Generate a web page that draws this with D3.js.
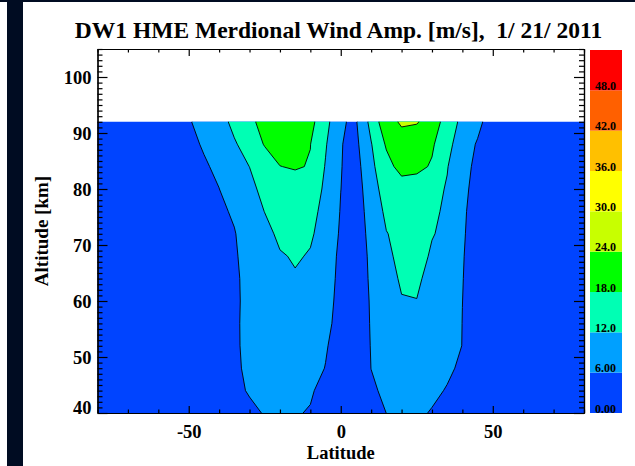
<!DOCTYPE html>
<meta charset="utf-8">
<script src="https://d3js.org/d3.v7.min.js"></script>
<style>
  body { margin: 0; background: #fff; }
  text { font-family: "Liberation Serif", "Times New Roman", serif; font-weight: bold; fill: #000; }
</style>
<body>
<svg id="vis" width="635" height="466"></svg>

<script>
// grid of the field: latitude columns, altitude rows (km)
var lats = [-80,-75,-70,-65,-60,-55,-50,-45,-40,-35,-30,-25,-20,-15,-10,-5,0,5,10,15,20,25,30,35,40,45,50,55,60,65,70,75,80];
var alts = [40,44,48,52,56,60,64,68,72,76,80,84,88,92];

// wind amplitude [m/s] per altitude row, one value per latitude
var amp40 = [1.5,1.7,1.9,2.2,2.4,2.7,3.0, 3.4,3.9,4.5,5.0,6.28,7.0,6.6,5.45,3.2,2.6,2.5,4.5,6.02,7.2,7.0,5.6,4.6,4.2,3.7,3.1, 2.7,2.3,2.0,1.7,1.4,1.1];
var amp44 = [1.5,1.7,1.9,2.2,2.5,2.7,3.1, 3.5,4.0,4.9,6.4,7.2,7.8,7.6,6.9,3.4,2.7,2.6,5.2,7.0,7.8,8.0,7.2,5.62,4.5,3.8,3.2, 2.7,2.3,2.0,1.7,1.4,1.1];
var amp48 = [1.5,1.7,2.0,2.2,2.5,2.8,3.2, 3.6,4.1,5.3,6.8,7.8,8.5,8.8,8.5,5.8,2.8,2.5,6.05,8.0,9.0,9.2,8.6,7.0,5.0,4.0,3.3, 2.8,2.3,2.0,1.7,1.4,1.1];
var amp52 = [1.5,1.7,2.0,2.3,2.6,2.9,3.2, 3.7,4.2,5.4,7.0,8.2,9.0,9.3,8.8,6.6,2.9,2.6,6.22,8.6,9.8,10.0,9.5,8.3,5.9,4.2,3.4, 2.8,2.3,2.0,1.7,1.4,1.1];
var amp56 = [1.5,1.8,2.0,2.3,2.6,2.9,3.3, 3.8,4.3,5.44,7.0,8.5,9.5,9.8,9.5,8.0,3.2,2.7,6.37,9.0,10.5,10.8,10.0,8.5,5.95,4.3,3.5, 2.9,2.4,2.0,1.7,1.4,1.1];
var amp60 = [1.5,1.8,2.1,2.4,2.7,3.0,3.4, 3.9,4.4,5.1,7.4,8.8,10.0,10.5,10.3,9.3,3.2,2.8,6.5,9.5,11.7,11.9,10.5,9.0,6.02,4.4,3.6, 2.9,2.4,2.0,1.7,1.4,1.1];
var amp64 = [1.6,1.8,2.1,2.4,2.7,3.1,3.5, 4.0,4.5,5.16,7.5,9.0,11.0,11.64,11.0,9.5,4.0,2.9,6.8,9.8,12.7,12.8,10.45,9.5,6.1,4.5,3.7, 3.0,2.4,2.0,1.7,1.4,1.1];
var amp68 = [1.6,1.9,2.2,2.5,2.8,3.2,3.6, 4.1,4.7,5.5,7.6,9.5,11.6,12.4,11.7,10.0,4.4,3.0,7.05,10.5,13.9,13.5,11.5,10.5,6.2,4.5,3.8, 3.0,2.5,2.1,1.7,1.4,1.1];
var amp72 = [1.7,2.0,2.3,2.6,2.9,3.3,3.8, 4.3,4.9,5.83,7.5,10.5,13.0,13.8,12.5,10.4,5.2,3.3,7.5,11.8,13.5,13.8,12.2,11.2,6.3,4.8,3.9, 3.1,2.5,2.1,1.7,1.4,1.1];
var amp76 = [1.7,2.0,2.3,2.7,3.0,3.4,3.9, 4.6,5.4,6.4,9.5,12.1,14.0,14.5,13.5,10.5,5.7,3.5,8.1,13.2,14.5,14.5,13.0,11.1,6.8,3.9,3.2, 2.7,2.3,2.0,1.6,1.3,1.0];
var amp80 = [1.8,2.1,2.4,2.8,3.1,3.5,4.0, 4.8,5.95,8.5,10.15,14.0,15.5,15.2,14.5,11.2,6.05,3.25,9.5,14.5,15.3,14.9,14.0,11.5,8.0,3.2,2.9, 2.6,2.3,2.0,1.6,1.3,1.0];
var amp84 = [1.8,2.2,2.6,3.0,3.3,3.6,3.9, 5.4,7.0,9.5,12.05,15.5,17.9,18.5,17.67,11.64,6.2,3.8,10.7,16.0,20.0,19.5,17.4,12.3,7.3,5.1,4.3, 3.4,2.6,2.0,1.6,1.3,1.0];
var amp88 = [1.9,2.3,2.8,3.3,3.8,4.2,4.7, 6.5,9.0,11.2,15.3,18.3,20.5,20.5,18.1,12.5,6.2,4.7,11.7,18.7,22.0,21.5,18.8,13.8,8.8,5.5,3.0, 2.5,2.1,1.8,1.5,1.2,1.0];
var amp92 = [2.0,2.5,3.0,3.6,4.2,4.8,5.4, 8.5,9.0,14.0,17.0,19.5,21.5,21.0,19.6,14.2,6.3,5.5,13.8,22.2,24.6,24.3,22.2,14.7,10.8,7.5,3.1, 2.6,2.2,1.9,1.6,1.3,1.0];
var rows = [amp40, amp44, amp48, amp52, amp56, amp60, amp64, amp68, amp72, amp76, amp80, amp84, amp88, amp92];

// contour levels and colour table
var levels = [0, 6, 12, 18, 24, 30, 36, 42, 48, 54];
var levelColors = ["#0044ff", "#00a0ff", "#00ffb4", "#00ff00", "#c8ff00", "#ffff00", "#ffc000", "#ff6000", "#ff0000"];
var levelLabels = ["0.00", "6.00", "12.0", "18.0", "24.0", "30.0", "36.0", "42.0", "48.0"];

// axis ticks
var xMajor = [-50, 0, 50];
var xMinor = [-80, -70, -60, -40, -30, -20, -10, 10, 20, 30, 40, 60, 70, 80];
var yMajor = [40, 50, 60, 70, 80, 90, 100];
var yMinor = d3.range(40, 106, 1).filter(function(d){ return d % 10 != 0; });

var svg = d3.select("#vis");

// dark frame edge
svg.append("rect").attr("x", 0).attr("y", 0).attr("width", 635).attr("height", 2).attr("fill", "#000c22");
svg.append("rect").attr("x", 7).attr("y", 0).attr("width", 16).attr("height", 466).attr("fill", "#000c22");

var x = d3.scaleLinear().domain([-80, 80]).range([97.5, 584]);
var y = d3.scaleLinear().domain([40, 105]).range([413, 49]);

// contours
var nx = lats.length, ny = alts.length;
var grid = [];
rows.forEach(function(r){ grid = grid.concat(r); });
var gx = d3.scaleLinear().domain([0.5, nx - 0.5]).range([lats[0], lats[nx - 1]]);
var gy = d3.scaleLinear().domain([0.5, ny - 0.5]).range([alts[0], alts[ny - 1]]);
var proj = d3.geoTransform({ point: function(px, py) { this.stream.point(x(gx(px)), y(gy(py))); } });
var path = d3.geoPath(proj);
var contours = d3.contours().size([nx, ny]).thresholds(levels.slice(0, -1))(grid);

svg.append("clipPath").attr("id", "clip")
  .append("rect")
    .attr("x", x(lats[0])).attr("y", y(alts[ny - 1]))
    .attr("width", x(lats[nx - 1]) - x(lats[0]))
    .attr("height", y(alts[0]) - y(alts[ny - 1]));

svg.append("g")
    .attr("clip-path", "url(#clip)")
  .selectAll("path")
  .data(contours)
  .enter().append("path")
    .attr("d", path)
    .attr("fill", function(d, i){ return levelColors[i]; })
    .attr("stroke", "#000")
    .attr("stroke-width", 0.9)
    .attr("stroke-linejoin", "round");

// axes
function styleAxis(g) {
  g.selectAll("path, line").attr("stroke", "#000").attr("stroke-width", 1.2);
  g.selectAll("text").attr("font-family", null).attr("font-size", "18.5px").attr("fill", "#000");
}
var plain = function(d){ return String(d); };
svg.append("g").attr("transform", "translate(0,413)")
  .call(d3.axisBottom(x).tickValues(xMinor).tickSize(-3.5).tickSizeOuter(0).tickFormat("")).call(styleAxis);
svg.append("g").attr("transform", "translate(0,413)")
  .call(d3.axisBottom(x).tickValues(xMajor).tickSize(-7).tickSizeOuter(0).tickPadding(12).tickFormat(plain)).call(styleAxis);
svg.append("g").attr("transform", "translate(0,49)")
  .call(d3.axisTop(x).tickValues(xMinor).tickSize(-3.5).tickSizeOuter(0).tickFormat("")).call(styleAxis);
svg.append("g").attr("transform", "translate(0,49)")
  .call(d3.axisTop(x).tickValues(xMajor).tickSize(-7).tickSizeOuter(0).tickFormat("")).call(styleAxis);

svg.append("g").attr("transform", "translate(97.5,0)")
  .call(d3.axisLeft(y).tickValues(yMinor).tickSize(-5).tickSizeOuter(0).tickFormat("")).call(styleAxis);
var yl2 = svg.append("g").attr("transform", "translate(97.5,0)")
  .call(d3.axisLeft(y).tickValues(yMajor).tickSize(-10).tickSizeOuter(0).tickPadding(6).tickFormat(plain)).call(styleAxis);
// lowest label sits above the bottom axis, the others are centred on their tick
yl2.selectAll("text").attr("dy", function(d){ return d === yMajor[0] ? "0em" : "0.35em"; });
svg.append("g").attr("transform", "translate(584,0)")
  .call(d3.axisRight(y).tickValues(yMinor).tickSize(-5).tickSizeOuter(0).tickFormat("")).call(styleAxis);
svg.append("g").attr("transform", "translate(584,0)")
  .call(d3.axisRight(y).tickValues(yMajor).tickSize(-10).tickSizeOuter(0).tickFormat("")).call(styleAxis);

// titles
svg.append("text")
  .attr("x", 338.5).attr("y", 38)
  .attr("text-anchor", "middle")
  .attr("font-size", "23.5px")
  .style("white-space", "pre")
  .text("DW1 HME Merdional Wind Amp. [m/s],  1/ 21/ 2011");
svg.append("text")
  .attr("x", x(0)).attr("y", 459)
  .attr("text-anchor", "middle")
  .attr("font-size", "18.5px")
  .text("Latitude");
svg.append("text")
  .attr("transform", "translate(48,231) rotate(-90)")
  .attr("text-anchor", "middle")
  .attr("font-size", "19px")
  .text("Altitude [km]");

// colour bar
var cy = d3.scaleLinear().domain([levels[0], levels[levels.length - 1]]).range([413, 50]);
var bar = svg.append("g");
bar.selectAll("rect")
  .data(levelColors)
  .enter().append("rect")
    .attr("x", 590)
    .attr("width", 32)
    .attr("y", function(d, i){ return cy(levels[i + 1]); })
    .attr("height", function(d, i){ return cy(levels[i]) - cy(levels[i + 1]); })
    .attr("fill", function(d){ return d; });
bar.selectAll("text")
  .data(levelLabels)
  .enter().append("text")
    .attr("x", 595)
    .attr("y", function(d, i){ return cy(levels[i]) - 0.5; })
    .attr("font-size", "12px")
    .attr("fill", "#111")
    .text(function(d){ return d; });
</script>
</body>
